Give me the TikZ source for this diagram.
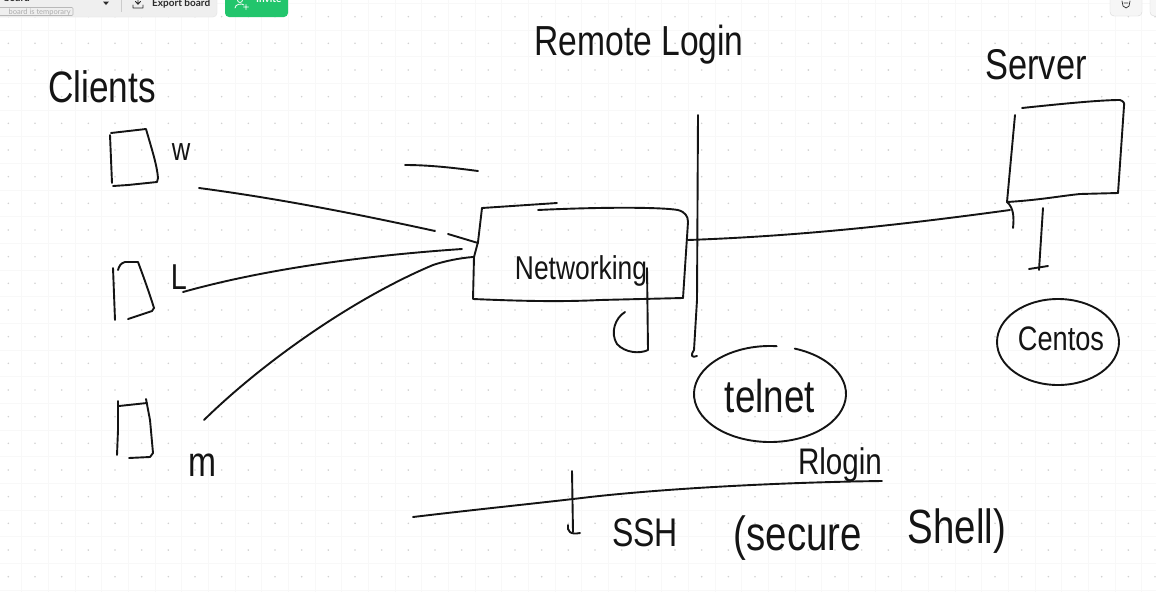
\documentclass[tikz,border=0pt]{standalone}
\usepackage{fontspec}
\newfontfamily\handfont{Liberation Sans}[FakeStretch=0.8]
\newfontfamily\uifont{Lato}
\definecolor{inkc}{HTML}{141414}
\definecolor{dotc}{HTML}{D2D2D2}
\definecolor{gridc}{HTML}{F8F8F8}
\definecolor{panelc}{HTML}{EFEFEF}
\definecolor{panelb}{HTML}{E2E2E2}
\definecolor{greenc}{HTML}{22C56C}
\definecolor{uic}{HTML}{2A2A2A}
\begin{document}
\begin{tikzpicture}[x=1pt,y=-1pt,
  ink/.style={draw=inkc, line width=1.9pt, line cap=round, line join=round},
  hw/.style={font=\handfont\fontsize{#1}{#1}\selectfont, text=inkc, inner sep=0pt, anchor=base},
  uitext/.style={font=\uifont\bfseries\fontsize{#1}{#1}\selectfont, inner sep=0pt}]
\useasboundingbox (0,0) rectangle (1156,592);
\fill[white] (0,0) rectangle (1156,592);
\clip (0,0) rectangle (1156,592);
% faint grid
\foreach \i in {0,...,42} \draw[gridc, line width=0.6pt] ({21.667+26.667*\i},0) -- ({21.667+26.667*\i},592);
\foreach \j in {0,...,22} \draw[gridc, line width=0.6pt] (0,{3.333+26.667*\j}) -- (1156,{3.333+26.667*\j});
\foreach \i in {0,...,43} \foreach \j in {0,...,21}
  \fill[dotc] ({8.333+26.667*\i},{16.667+26.667*\j}) circle (0.9);

% ---------- toolbar (top) ----------
\filldraw[fill=panelc, draw=panelb, rounded corners=4pt] (-10,-10) rectangle (217,17);
\draw[draw=gray!55, rounded corners=1pt, line width=0.6pt] (-5,7.5) rectangle (73,15.5);
\node[font=\uifont\fontsize{7.5}{7.5}\selectfont, text=gray!65, anchor=base east, inner sep=0pt] (temp) at (71,14) {board is temporary};
\node[uitext=10, text=uic, anchor=base east] (bname) at (30,1.5) {board};
\fill[uic] (103,1.5) -- (109,1.5) -- (106,5) -- cycle;
\draw[gray!40, line width=0.7pt] (121.5,-1) -- (121.5,12);
\draw[uic, line width=0.9pt, line cap=round, line join=round] (138,-2) -- (138,4) (135.5,1.5) -- (138,4.2) -- (140.5,1.5) (133,5) -- (133,8) -- (143,8) -- (143,5);
\node[uitext=10, text=uic, anchor=base west] (export) at (152,6.5) {Export board};
\fill[greenc, rounded corners=4pt] (225,-10) rectangle (288,17);
\draw[white, line width=0.8pt] (240,0) circle (2.5);
\draw[white, line width=0.8pt, line cap=round] (235,8) .. controls (235,4) and (242,3) .. (244,5) (246,4.5) -- (246,9.5) (243.5,7) -- (248.5,7);
\node[uitext=10, text=white, anchor=base west] (invite) at (256,2) {Invite};
\filldraw[fill=gray!7, draw=gray!30, rounded corners=4pt] (1110,-10) rectangle (1142,16);
\draw[uic, line width=0.7pt, line cap=round] (1122,1) -- (1123,6) -- (1126,8) -- (1129,6) -- (1130,1) (1124,3) -- (1128,3);
\filldraw[fill=gray!7, draw=gray!30, rounded corners=4pt] (1150,-10) rectangle (1170,16);

% ---------- texts ----------
\node[hw=44] (clients) at (102,102) {Clients};
\node[hw=32] (wlab) at (181,160) {w};
\node[hw=36] (llab) at (179,289) {L};
\node[hw=42] (mlab) at (202,476) {m};
\node[hw=42] (remote) at (639,55) {Remote Login};
\node[hw=43] (server) at (1036,79) {Server};
\node[hw=33] (netlab) at (581,279) {Networking};
\node[hw=46] (telnetlab) at (770,412) {telnet};
\node[hw=34] (centoslab) at (1061,350) {Centos};
\node[hw=37] (rloginlab) at (840,474) {Rlogin};
\node[hw=40] (ssh) at (645,546) {SSH};
\node[hw=48] (secure) at (798,550) {(secure};
\node[hw=48] (shell) at (957,543) {Shell)};

% ---------- client boxes ----------
% w
\draw[ink] (110,135) -- (112,183);
\draw[ink] (111,133) -- (146,129) .. controls (152,150) and (157,165) .. (158,178) -- (157,182) -- (128,185) -- (113,186);
% L
\draw[ink] (113,268) -- (115,320);
\draw[ink] (118,270) .. controls (119,266) and (121,263) .. (125,262) -- (138,262) .. controls (144,278) and (150,295) .. (154,308) -- (152,311) -- (128,319);
% m
\draw[ink] (118,401) -- (118,430) -- (117,455);
\draw[ink] (119,406) -- (147,403);
\draw[ink] (146,399) -- (150,420) -- (153,453) -- (150,457) -- (129,458);

% ---------- connector end points ----------
\coordinate (wOut) at (199,188);
\coordinate (netInW) at (435,231);
\coordinate (lOut) at (183,292);
\coordinate (netInL) at (462,249);
\coordinate (mOut) at (204,420);
\coordinate (netInM) at (473,257);
\coordinate (netOut) at (688,240);
\coordinate (srvIn) at (1010,210);
\coordinate (sshL) at (413,517);
\coordinate (sshR) at (882,481);

% ---------- connectors ----------
\draw[ink] (wOut) .. controls (290,200) and (380,219) .. (netInW);
\draw[ink] (448,234) -- (478,243);
\draw[ink] (lOut) .. controls (240,276) and (330,258) .. (netInL);
\draw[ink] (mOut) .. controls (260,365) and (350,300) .. (433,265) .. controls (445,261) and (460,258) .. (netInM);
\draw[ink] (405,165) .. controls (430,165) and (455,168) .. (478,171);
\draw[ink] (netOut) .. controls (800,236) and (900,225) .. (srvIn);
\draw[ink] (1007,202) .. controls (1014,208) and (1014,218) .. (1013,228);

% ---------- Networking box ----------
\draw[ink] (482,208) -- (557,203);
\draw[ink] (538,210) .. controls (600,207) and (660,207) .. (678,210) .. controls (685,212) and (688,216) .. (688,222) -- (683,298);
\draw[ink] (482,208) -- (478,242) -- (474,257) -- (473,299) .. controls (520,301) and (560,302) .. (600,300) -- (683,298);
\draw[ink] (647,268) -- (648,350) .. controls (640,354) and (625,353) .. (617,344) .. controls (610,333) and (615,318) .. (625,312);

% ---------- divider ----------
\draw[ink] (698,115) -- (697,300) -- (694,350) .. controls (690,356) and (692,358) .. (697,356);

% ---------- Server box ----------
\draw[ink] (1015,115) -- (1007,202);
\draw[ink] (1022,108) .. controls (1060,104) and (1100,100) .. (1120,100) .. controls (1123,101) and (1125,103) .. (1124,106) -- (1118,193);
\draw[ink] (1007,202) .. controls (1040,200) and (1060,196) .. (1080,194) -- (1118,193);
\draw[ink] (1043,208) -- (1039,270);
\draw[ink] (1029,269) -- (1048,266);

% ---------- ellipses ----------
\draw[ink] (1058,342) ellipse [x radius=61, y radius=43];
\draw[ink] (770,394) ++(-71:76 and 48) arc[start angle=-71, end angle=275, x radius=76, y radius=48];

% ---------- bottom line ----------
\draw[ink] (sshL) .. controls (480,509) and (540,503) .. (590,497) .. controls (680,487) and (800,482) .. (sshR);
\draw[ink] (572,471) -- (573,532);
\draw[ink] (568,525) .. controls (567,531) and (570,535) .. (580,533);
\end{tikzpicture}
\end{document}
